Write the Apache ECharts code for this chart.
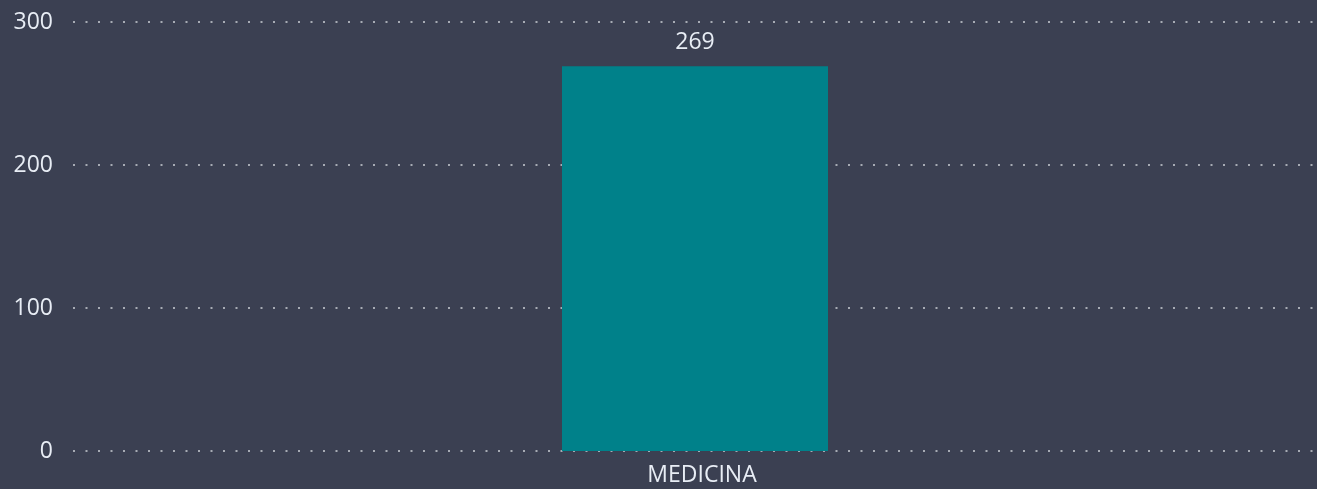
<!DOCTYPE html>
<html>
<head>
<meta charset="utf-8">
<script src="https://cdn.jsdelivr.net/npm/echarts@6/dist/echarts.min.js"></script>
<style>
  html, body { margin: 0; padding: 0; background: #3b4052; }
  #chart { width: 1317px; height: 489px; }
</style>
</head>
<body>
<div id="chart"></div>
<script>
// data
const categories = ['MEDICINA']
const values = [269]
const yTicks = [0, 100, 200, 300]

const textColor = '#e8edf5'
const fontFamily = '"Open Sans", "Segoe UI", sans-serif'

const myChart = echarts.init(document.getElementById('chart'))
myChart.setOption({
    backgroundColor: '#3b4052',
    animation: false,
    grid: { left: 73, right: 0, top: 22, bottom: 38, containLabel: false },
    xAxis: {
        type: 'category',
        data: categories,
        axisLine: { show: false },
        axisTick: { show: false },
        axisLabel: { color: textColor, fontSize: 23, fontFamily: fontFamily, margin: 13, padding: [0, 0, 0, 14] }
    },
    yAxis: {
        type: 'value',
        min: yTicks[0],
        max: yTicks[yTicks.length - 1],
        interval: 100,
        axisLine: { show: false },
        axisTick: { show: false },
        axisLabel: { color: textColor, fontSize: 23, fontFamily: fontFamily, margin: 20 },
        splitLine: { lineStyle: { color: '#a7abb4', width: 2, type: [2, 10.5] } }
    },
    series: [{
        type: 'bar',
        data: values,
        barWidth: 266,
        itemStyle: { color: '#00818a' },
        label: {
            show: true,
            position: 'top',
            distance: 12,
            color: textColor,
            fontSize: 23,
            fontFamily: fontFamily
        }
    }]
})
</script>
</body>
</html>
